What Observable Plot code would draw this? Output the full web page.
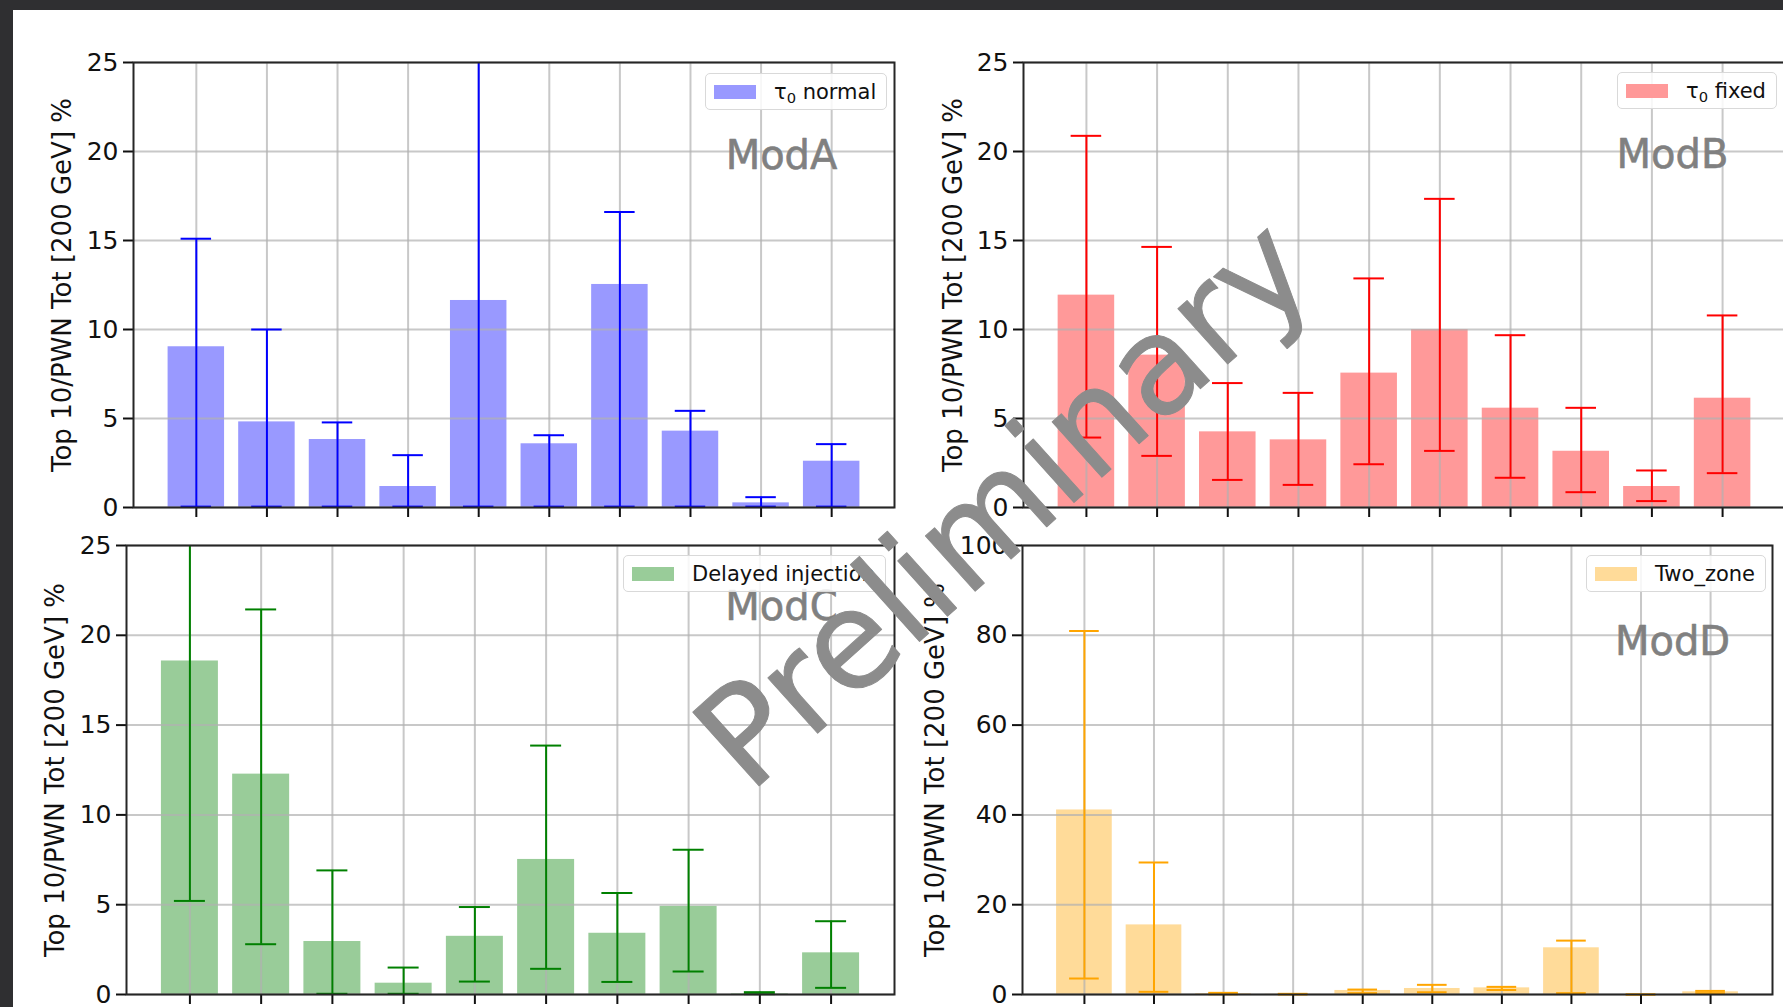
<!DOCTYPE html>
<html>
<head>
<meta charset="utf-8">
<script src="https://cdn.jsdelivr.net/npm/d3@7"></script>
<script src="https://cdn.jsdelivr.net/npm/@observablehq/plot@0.6"></script>
<style>
  html, body { margin: 0; padding: 0; background: #2f2f31; }
  #root { position: relative; width: 1783px; height: 1007px; overflow: hidden; background: #2f2f31; font-family: "DejaVu Sans", sans-serif; }
  #sheet { position: absolute; left: 13px; top: 10px; right: 0; bottom: 0; background: #fff; }
  .panel { position: absolute; }
  .legend { position: absolute; display: flex; align-items: center; box-sizing: border-box; height: 37px;
    border: 1.5px solid #d9d9d9; border-radius: 5px; background: rgba(255,255,255,0.85);
    font-family: "DejaVu Sans", sans-serif; font-size: 21px; color: #111; padding-right: 10px; white-space: nowrap; }
  .legend .sw { display: inline-block; width: 42px; height: 14px; margin-right: 18px; }
  .legend sub { font-size: 70%; vertical-align: -4px; line-height: 0; }
  #wm { position: absolute; left: 0; top: 0; pointer-events: none; }
</style>
</head>
<body>
<div id="root"><div id="sheet"></div></div>
<script>
// ---- data ----
const sources = [0, 1, 2, 3, 4, 5, 6, 7, 8, 9];
const yLabel = "Top 10/PWN Tot [200 GeV] %";

const modA_values = [9.03, 4.81, 3.82, 1.18, 11.63, 3.58, 12.53, 4.29, 0.26, 2.60];
const modA_upper  = [15.1, 10.0, 4.78, 2.94, 27.5, 4.06, 16.6, 5.43, 0.58, 3.56];
const modA_lower  = [0.05, 0.05, 0.05, 0.05, 0.05, 0.05, 0.05, 0.05, 0.05, 0.05];

const modB_values = [11.93, 8.56, 4.25, 3.80, 7.55, 10.0, 5.58, 3.16, 1.18, 6.14];
const modB_upper  = [20.88, 14.64, 6.99, 6.44, 12.87, 17.34, 9.68, 5.60, 2.08, 10.79];
const modB_lower  = [3.93, 2.90, 1.55, 1.27, 2.43, 3.18, 1.67, 0.86, 0.36, 1.93];

const modC_values = [18.57, 12.27, 2.95, 0.63, 3.24, 7.52, 3.41, 4.91, 0.04, 2.32];
const modC_upper  = [32.0, 21.44, 6.91, 1.50, 4.87, 13.86, 5.65, 8.06, 0.13, 4.08];
const modC_lower  = [5.21, 2.80, 0.04, 0.04, 0.72, 1.43, 0.70, 1.28, 0.02, 0.37];

const modD_values = [41.1, 15.5, 0.2, 0.05, 0.9, 1.34, 1.48, 10.4, 0, 0.6];
const modD_upper  = [80.96, 29.4, 0.37, 0.15, 1.1, 2.15, 1.7, 12.0, 0, 0.8];
const modD_lower  = [3.56, 0.6, 0.05, 0, 0.3, 0.5, 1.0, 0.3, 0, 0.3];

const ticks25 = [0, 5, 10, 15, 20, 25];
const ticks100 = [0, 20, 40, 60, 80, 100];

// ---- panels ----
const panels = [
  {name: "ModA", legend: "τ<sub>0</sub> normal", values: modA_values, upper: modA_upper, lower: modA_lower,
   fill: "#9999ff", stroke: "#0000ff", ymax: 25, ticks: ticks25,
   L: 133, T: 62, R: 894, B: 507, labelDx: -71, mod: [781, 156], leg: [705, 73]},
  {name: "ModB", legend: "τ<sub>0</sub> fixed", values: modB_values, upper: modB_upper, lower: modB_lower,
   fill: "#ff9999", stroke: "#ff0000", ymax: 25, ticks: ticks25,
   L: 1023, T: 62, R: 1785, B: 507, labelDx: -70, mod: [1672, 155], leg: [1617, 72]},
  {name: "ModC", legend: "Delayed injection", values: modC_values, upper: modC_upper, lower: modC_lower,
   fill: "#99cc99", stroke: "#008000", ymax: 25, ticks: ticks25,
   L: 126, T: 545, R: 894, B: 994, labelDx: -71, mod: [781, 607], leg: [623, 555]},
  {name: "ModD", legend: "Two_zone", values: modD_values, upper: modD_upper, lower: modD_lower,
   fill: "#ffdb99", stroke: "#ffa500", ymax: 100, ticks: ticks100,
   L: 1022, T: 545, R: 1772, B: 994, labelDx: -87, mod: [1672, 642], leg: [1586, 555]}
];

const root = document.getElementById("root");
const ml = 110, mt = 20, mr = 14, mb = 22;

for (const p of panels) {
  const data = sources.map((s, i) => ({s, v: p.values[i], hi: p.upper[i], lo: p.lower[i]}));
  const chart = Plot.plot({
    width: (p.R - p.L) + ml + mr,
    height: (p.B - p.T) + mt + mb,
    marginLeft: ml, marginRight: mr, marginTop: mt, marginBottom: mb,
    style: {background: "transparent", fontFamily: "DejaVu Sans", fontSize: "25px", color: "#111", overflow: "visible"},
    x: {type: "band", domain: sources, paddingInner: 0.2, paddingOuter: 0.49, align: 0.5, round: false},
    y: {domain: [0, p.ymax], clamp: true},
    marks: [
      Plot.barY(data, {x: "s", y: "v", fill: p.fill}),
      Plot.gridX({stroke: "#b0b0b0", strokeOpacity: 0.7, strokeWidth: 2}),
      Plot.gridY({ticks: p.ticks, stroke: "#b0b0b0", strokeOpacity: 0.7, strokeWidth: 2}),
      Plot.ruleX(data, {x: "s", y1: "lo", y2: "hi", stroke: p.stroke, strokeWidth: 2}),
      Plot.tickY(data, {x: "s", y: "hi", stroke: p.stroke, strokeWidth: 2, insetLeft: 13, insetRight: 13,
        filter: d => d.hi <= p.ymax}),
      Plot.tickY(data, {x: "s", y: "lo", stroke: p.stroke, strokeWidth: 2, insetLeft: 13, insetRight: 13}),
      Plot.axisX({tickSize: 10, tickFormat: () => "", strokeWidth: 2, stroke: "#111", label: null}),
      Plot.axisY({ticks: p.ticks, tickSize: 10, tickPadding: 5, strokeWidth: 2, stroke: "#111",
        fontSize: 25, label: null}),
      Plot.frame({stroke: "#262626", strokeWidth: 2}),
      Plot.text([yLabel], {frameAnchor: "left", dx: p.labelDx, rotate: -90, fontSize: 26, fill: "#111",
        textAnchor: "middle", lineAnchor: "middle"}),
      Plot.text([p.name], {frameAnchor: "top-left", dx: p.mod[0] - p.L, dy: p.mod[1] - p.T,
        textAnchor: "middle", lineAnchor: "middle",
        fontSize: 40, fill: "#808080", stroke: "#808080", strokeWidth: 0.6})
    ]
  });
  chart.classList.add("panel");
  chart.style.left = (p.L - ml) + "px";
  chart.style.top = (p.T - mt) + "px";
  root.appendChild(chart);

  const lg = document.createElement("div");
  lg.className = "legend";
  lg.style.left = p.leg[0] + "px";
  lg.style.top = p.leg[1] + "px";
  lg.style.paddingLeft = "8px";
  lg.innerHTML = `<span class="sw" style="background:${p.fill}"></span><span>${p.legend}</span>`;
  root.appendChild(lg);
}

// ---- watermark ----
const wm = Plot.plot({
  width: 1783, height: 1007, margin: 0,
  x: {axis: null}, y: {axis: null},
  style: {background: "transparent", fontFamily: "DejaVu Sans"},
  marks: [
    Plot.text(["Preliminary"], {frameAnchor: "top-left", dx: 1005, dy: 505, rotate: -42,
      textAnchor: "middle", lineAnchor: "middle",
      fontSize: 136, fill: "#8c8c8c", stroke: "#8c8c8c", strokeWidth: 1})
  ]
});
wm.id = "wm";
root.appendChild(wm);
</script>
</body>
</html>
